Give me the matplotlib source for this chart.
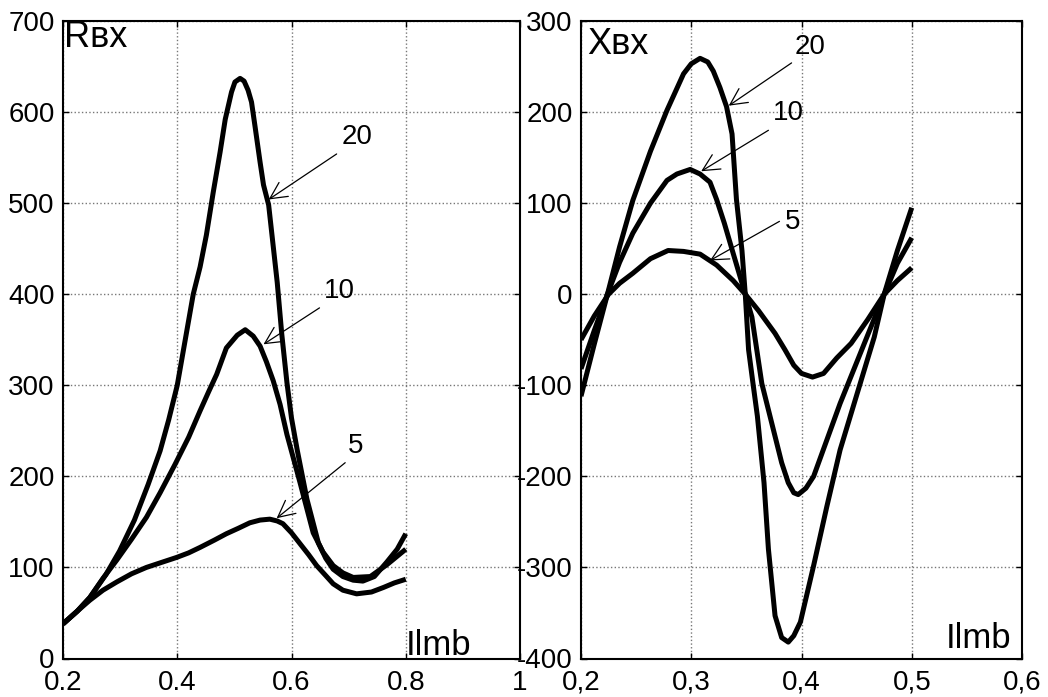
import matplotlib
matplotlib.use("Agg")
import matplotlib.pyplot as plt

plt.rcParams['font.family'] = ['Liberation Sans', 'DejaVu Sans']

# ---- Left panel data (R_in) ----
r20_x = [0.2, 0.225, 0.247, 0.275, 0.299, 0.325, 0.349, 0.370, 0.385, 0.4, 0.414, 0.428, 0.44, 0.451, 0.463,
         0.475, 0.484, 0.495, 0.501, 0.51, 0.517, 0.524, 0.53, 0.536, 0.545, 0.551, 0.56, 0.575, 0.583, 0.592,
         0.6, 0.61, 0.627, 0.647, 0.66, 0.673, 0.69, 0.708, 0.725, 0.745, 0.767, 0.785, 0.8]
r20_y = [38, 52, 67, 92, 118, 152, 191, 228, 262, 300, 350, 400, 430, 465, 512,
         556, 592, 622, 633, 637, 634, 624, 611, 585, 545, 520, 498, 413, 356, 303,
         264, 229, 175, 127, 110, 98, 90, 86, 85, 90, 106, 120, 137]
r10_x = [0.2, 0.225, 0.247, 0.27, 0.294, 0.32, 0.346, 0.37, 0.396, 0.42, 0.44, 0.455, 0.469, 0.486, 0.505,
         0.519, 0.533, 0.545, 0.556, 0.568, 0.58, 0.592, 0.615, 0.638, 0.655, 0.673, 0.69, 0.708, 0.738,
         0.767, 0.8]
r10_y = [38, 52, 67, 88, 108, 131, 155, 182, 213, 243, 272, 293, 312, 341, 355,
         361, 354, 343, 326, 305, 279, 246, 193, 138, 117, 102, 94, 89, 90,
         103, 120]
r5_x = [0.2, 0.225, 0.247, 0.27, 0.294, 0.32, 0.346, 0.37, 0.399, 0.42, 0.44, 0.465, 0.486, 0.507, 0.527,
        0.545, 0.562, 0.575, 0.585, 0.6, 0.615, 0.63, 0.644, 0.66, 0.673, 0.69, 0.714, 0.74, 0.761, 0.78, 0.8]
r5_y = [38, 52, 64, 75, 84, 93, 100, 105, 111, 116, 122, 130, 137, 143, 149,
        152, 153, 151, 148, 138, 126, 114, 102, 91, 82, 75, 71, 73, 78, 83, 87]

# ---- Right panel data (X_in) ----
x20_x = [0.2, 0.212, 0.224, 0.235, 0.247, 0.263, 0.278, 0.293, 0.3, 0.308, 0.315, 0.32, 0.326, 0.332, 0.337,
         0.341, 0.346, 0.349, 0.352, 0.356, 0.36, 0.366, 0.37, 0.376, 0.382, 0.388, 0.393, 0.399, 0.411,
         0.423, 0.435, 0.446, 0.457, 0.466, 0.475, 0.487, 0.5]
x20_y = [-112, -55, 0, 52, 103, 157, 202, 242, 253, 259, 255, 245, 227, 206, 176,
         104, 48, 0, -61, -98, -134, -207, -280, -353, -377, -382, -375, -360, -298,
         -233, -171, -127, -83, -47, 0, 48, 95]
x10_x = [0.2, 0.212, 0.224, 0.235, 0.247, 0.263, 0.278, 0.287, 0.299, 0.308, 0.317, 0.323, 0.33, 0.338,
         0.349, 0.355, 0.364, 0.37, 0.376, 0.382, 0.388, 0.393, 0.397, 0.404, 0.411, 0.423, 0.435, 0.446,
         0.457, 0.466, 0.475, 0.487, 0.5]
x10_y = [-82, -40, 0, 35, 67, 100, 125, 132, 137, 132, 123, 104, 78, 45,
         0, -25, -98, -127, -156, -185, -207, -218, -220, -213, -200, -160, -120, -87,
         -54, -27, 0, 34, 62]
x5_x = [0.2, 0.212, 0.225, 0.235, 0.247, 0.263, 0.279, 0.293, 0.308, 0.323, 0.338, 0.349, 0.361, 0.376,
        0.385, 0.393, 0.4, 0.41, 0.42, 0.432, 0.445, 0.46, 0.475, 0.487, 0.5]
x5_y = [-50, -24, 0, 12, 23, 39, 48, 47, 44, 32, 15, 0, -18, -43,
        -61, -78, -87, -91, -87, -70, -54, -28, 0, 15, 29]

# ---- Ticks ----
l_xticks = [0.2, 0.4, 0.6, 0.8, 1.0]
l_xlabels = ["0.2", "0.4", "0.6", "0.8", "1"]
l_yticks = [0, 100, 200, 300, 400, 500, 600, 700]
l_ylabels = ["0", "100", "200", "300", "400", "500", "600", "700"]
r_xticks = [0.2, 0.3, 0.4, 0.5, 0.6]
r_xlabels = ["0,2", "0,3", "0,4", "0,5", "0,6"]
r_yticks = [-400, -300, -200, -100, 0, 100, 200, 300]
r_ylabels = ["-400", "-300", "-200", "-100", "0", "100", "200", "300"]

# ---- Annotations: label, text pos, arrow tail, arrow tip ----
l_ann = [("20", (0.714, 573), (0.679, 554), (0.56, 504)),
         ("10", (0.684, 403), (0.649, 385), (0.551, 345)),
         ("5", (0.713, 233), (0.694, 215), (0.574, 154))]
r_ann = [("20", (0.408, 272), (0.391, 254), (0.334, 207)),
         ("10", (0.388, 199), (0.370, 180), (0.309, 135)),
         ("5", (0.392, 79), (0.380, 80), (0.317, 37))]

W, H = 1048, 697
fig = plt.figure(figsize=(W / 100, H / 100), dpi=100)
axL = fig.add_axes([63 / W, 1 - 658.5 / H, (520 - 63) / W, (658.5 - 21) / H])
axR = fig.add_axes([581 / W, 1 - 658.5 / H, (1022 - 581) / W, (658.5 - 21) / H])

FS = 20
LW = 3.6

def style(ax, xt, xl, yt, yl):
    ax.set_xlim(xt[0], xt[-1])
    ax.set_ylim(yt[0], yt[-1])
    ax.set_xticks(xt)
    ax.set_xticklabels(xl)
    ax.set_yticks(yt)
    ax.set_yticklabels(yl)
    ax.tick_params(direction='in', length=4, width=1, top=True, right=True,
                   labelsize=FS)
    ax.tick_params(axis='x', pad=8)
    ax.tick_params(axis='y', pad=6)
    ax.grid(True, color='#777777', linestyle=':', linewidth=1)
    for s in ax.spines.values():
        s.set_linewidth(1.5)
        s.set_color('black')

for ax, (xt, xl, yt, yl) in [(axL, (l_xticks, l_xlabels, l_yticks, l_ylabels)),
                              (axR, (r_xticks, r_xlabels, r_yticks, r_ylabels))]:
    style(ax, xt, xl, yt, yl)

for xs, ys in [(r20_x, r20_y), (r10_x, r10_y), (r5_x, r5_y)]:
    axL.plot(xs, ys, color='black', lw=LW, solid_joinstyle='round', solid_capstyle='butt')
for xs, ys in [(x20_x, x20_y), (x10_x, x10_y), (x5_x, x5_y)]:
    axR.plot(xs, ys, color='black', lw=LW, solid_joinstyle='round', solid_capstyle='butt')

for ax, anns in [(axL, l_ann), (axR, r_ann)]:
    for lab, tpos, tail, tip in anns:
        ax.text(tpos[0], tpos[1], lab, fontsize=FS, ha='center', va='center')
        ax.annotate('', xy=tip, xytext=tail,
                    arrowprops=dict(arrowstyle='->,head_length=0.6,head_width=0.3',
                                    lw=0.9, color='black', mutation_scale=20,
                                    shrinkA=0, shrinkB=0))

axL.text(0.202, 671, "Rвх", fontsize=26, ha='left', va='baseline')
axR.text(0.206, 264, "Xвх", fontsize=26, ha='left', va='baseline')
axL.text(0.8, 4, "Ilmb", fontsize=25, ha='left', va='baseline')
axR.text(0.531, -388, "Ilmb", fontsize=25, ha='left', va='baseline')

fig.savefig("out.png", dpi=100)
